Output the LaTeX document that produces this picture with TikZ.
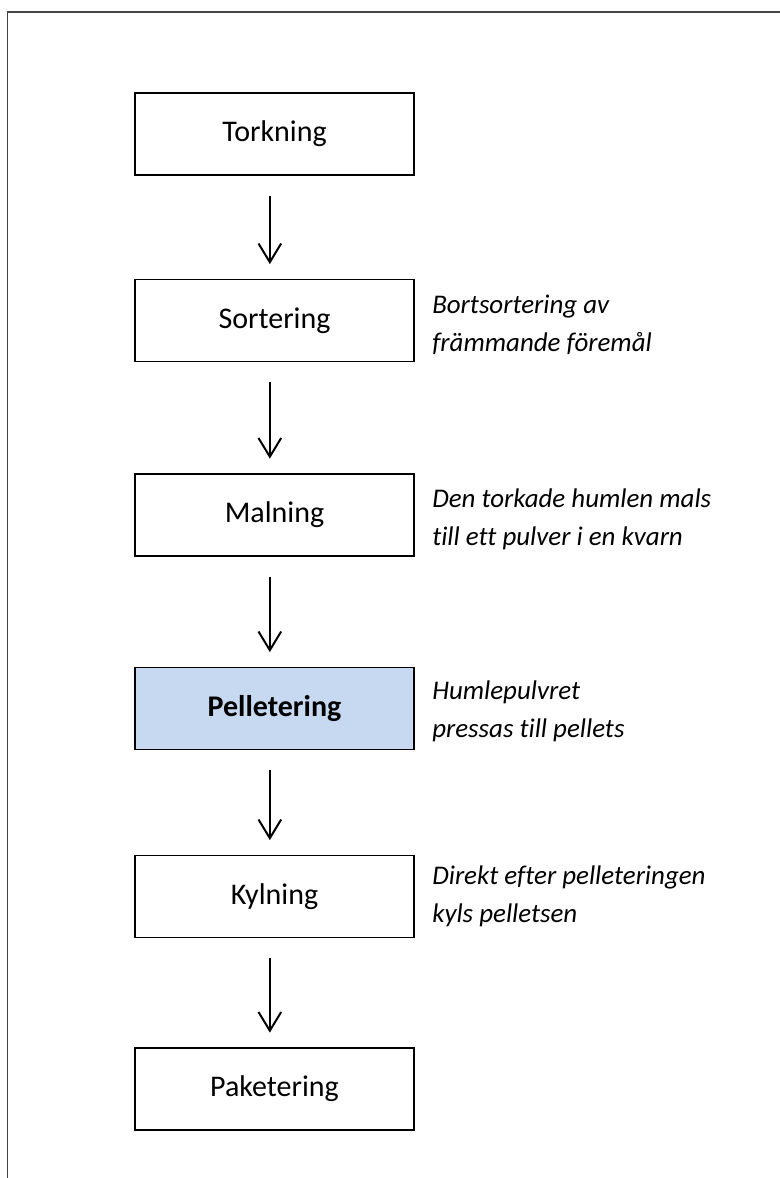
\documentclass[tikz,border=0pt]{standalone}
\usepackage{fontspec}
\setmainfont{Carlito}[Ligatures=NoCommon]
\usetikzlibrary{arrows.meta}
\definecolor{hlblue}{HTML}{C6D9F1}
\definecolor{framegray}{HTML}{444444}
\begin{document}
\begin{tikzpicture}[x=0.75pt,y=-0.75pt,
  stepbox/.style={draw=black,line width=1.1pt,minimum width=209.25pt,minimum height=61.5pt,inner sep=0pt,font=\fontsize{22.5}{28.5}\selectfont},
  note/.style={anchor=west,align=left,inner sep=0pt,font=\fontsize{20.2}{28.5}\selectfont\itshape},
  flow/.style={line width=1.5pt,-{Straight Barb[length=14pt,width=17pt,line width=1.5pt]},shorten <=15pt,shorten >=11pt}]
\useasboundingbox (0,0) rectangle (779,1178);
% frame
\draw[framegray,line width=1.3pt] (7.5,1180) -- (7.5,12) -- (782,12);
% boxes
\node[stepbox] (t) at (274.5,134) {Torkning};
\node[stepbox] (s) at (274.5,320.5) {Sortering};
\node[stepbox] (m) at (274.5,515) {Malning};
\node[stepbox,fill=hlblue,font=\fontsize{22.5}{28.5}\selectfont\bfseries] (p) at (274.5,708.5) {Pelletering};
\node[stepbox] (k) at (274.5,896.5) {Kylning};
\node[stepbox] (pk) at (274.5,1089) {Paketering};
% arrows
\foreach \a/\b in {t/s,s/m,m/p,p/k,k/pk}
  \draw[flow] ([xshift=-3.5pt]\a.south) -- ([xshift=-3.5pt]\b.north);
% notes
\node[note] (ns) at (432,325) {Bortsortering av\\främmande föremål};
\node[note] (nm) at (432,519) {Den torkade humlen mals\\till ett pulver i en kvarn};
\node[note] (np) at (432,711) {Humlepulvret\\pressas till pellets};
\node[note] (nk) at (432,896) {Direkt efter pelleteringen\\kyls pelletsen};
\end{tikzpicture}
\end{document}
